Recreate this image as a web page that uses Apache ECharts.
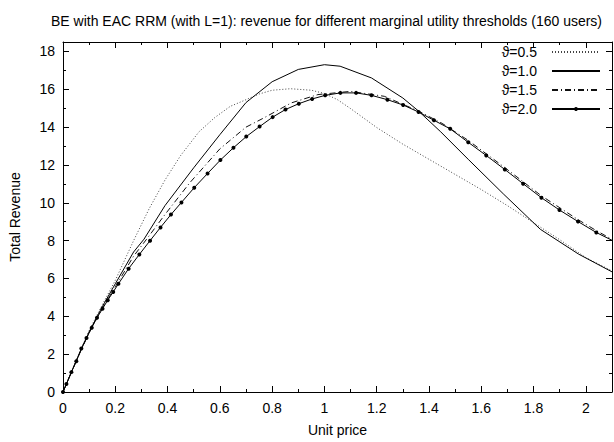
<!DOCTYPE html>
<html>
<head>
<meta charset="utf-8">
<script src="https://cdn.jsdelivr.net/npm/echarts@6/dist/echarts.min.js"></script>
<style>
html,body{margin:0;padding:0;background:#fff;}
#chart{width:614px;height:442px;}
</style>
</head>
<body>
<div id="chart"></div>
<script>
var titleText = 'BE with EAC RRM (with L=1): revenue for different marginal utility thresholds (160 users)';
var seriesNames = ['\u03D1=0.5', '\u03D1=1.0', '\u03D1=1.5', '\u03D1=2.0'];

var priceT05 = [0, 0.05, 0.1, 0.15, 0.2, 0.27, 0.33, 0.39, 0.45, 0.52, 0.58, 0.64, 0.7, 0.75, 0.8, 0.87, 0.95, 1.0, 1.05, 1.1, 1.15, 1.2, 1.3, 1.4, 1.5, 1.6, 1.7, 1.8, 1.9, 2.0, 2.1];
var revT05   = [0, 1.65, 3.25, 4.6, 5.9, 8.0, 9.7, 11.2, 12.5, 13.75, 14.5, 15.1, 15.45, 15.75, 15.95, 16.03, 15.95, 15.78, 15.45, 14.98, 14.48, 13.98, 13.1, 12.3, 11.5, 10.7, 9.85, 8.95, 8.05, 7.1, 6.4];

var priceT10 = [0, 0.05, 0.1, 0.15, 0.2, 0.27, 0.31, 0.39, 0.5, 0.6, 0.7, 0.8, 0.9, 1.0, 1.06, 1.18, 1.3, 1.36, 1.445, 1.55, 1.686, 1.826, 1.972, 2.1];
var revT10   = [0, 1.63, 3.18, 4.5, 5.72, 7.4, 8.08, 9.85, 11.85, 13.6, 15.3, 16.4, 17.05, 17.3, 17.22, 16.6, 15.54, 14.85, 13.75, 12.3, 10.45, 8.6, 7.29, 6.35];

var priceT15 = [0, 0.05, 0.1, 0.15, 0.2, 0.27, 0.32, 0.39, 0.485, 0.6, 0.7, 0.77, 0.873, 0.975, 1.1, 1.229, 1.36, 1.45, 1.55, 1.69, 1.83, 1.97, 2.04, 2.1];
var revT15   = [0, 1.62, 3.14, 4.42, 5.56, 7.18, 8.08, 9.38, 11.06, 12.85, 14.0, 14.5, 15.28, 15.72, 15.89, 15.63, 14.85, 14.2, 13.3, 11.86, 10.37, 9.11, 8.53, 8.07];

var priceT20 = [0, 0.013, 0.032, 0.051, 0.070, 0.090, 0.110, 0.130, 0.151, 0.171, 0.192, 0.212, 0.251, 0.292, 0.333, 0.373, 0.413, 0.453, 0.502, 0.553, 0.602, 0.652, 0.701, 0.752, 0.802, 0.851, 0.902, 0.953, 1.003, 1.061, 1.121, 1.180, 1.241, 1.301, 1.360, 1.419, 1.481, 1.550, 1.619, 1.690, 1.760, 1.830, 1.899, 1.970, 2.040, 2.110];
var revT20   = [0, 0.42, 1.05, 1.63, 2.30, 2.85, 3.40, 3.92, 4.40, 4.85, 5.29, 5.72, 6.52, 7.27, 8.00, 8.70, 9.38, 10.02, 10.80, 11.55, 12.26, 12.91, 13.50, 14.03, 14.53, 14.93, 15.24, 15.49, 15.68, 15.81, 15.81, 15.68, 15.45, 15.17, 14.80, 14.36, 13.91, 13.20, 12.50, 11.76, 11.01, 10.27, 9.62, 9.01, 8.43, 7.95];

var xTickLabels = ['0', '0.2', '0.4', '0.6', '0.8', '1', '1.2', '1.4', '1.6', '1.8', '2'];
var yTickLabels = ['0', '2', '4', '6', '8', '10', '12', '14', '16', '18'];

function pairs(xs, ys) { return xs.map(function (x, i) { return [x, ys[i]]; }); }

var FONT = '"Liberation Sans", Arial, Helvetica, sans-serif';

function xFmt(v) {
  var k = Math.round(v * 5);
  if (Math.abs(v * 5 - k) > 1e-6) return '';
  return xTickLabels[k] !== undefined ? xTickLabels[k] : '';
}
function yFmt(v) {
  var k = Math.round(v / 2);
  if (Math.abs(v / 2 - k) > 1e-6) return '';
  return yTickLabels[k] !== undefined ? yTickLabels[k] : '';
}

var axisCommon = {
  axisLine: { show: true, onZero: false, lineStyle: { color: '#000', width: 1 } },
  axisTick: { show: true, inside: true, length: 6, lineStyle: { color: '#000', width: 1 } },
  minorTick: { show: true, splitNumber: 2, length: 3, lineStyle: { color: '#000', width: 1 } },
  splitLine: { show: false },
  minorSplitLine: { show: false }
};

var hiddenSymbol = { color: 'rgba(0,0,0,0)', borderWidth: 0, borderColor: 'rgba(0,0,0,0)' };

var chart = echarts.init(document.getElementById('chart'), null, { renderer: 'svg' });
chart.setOption({
  animation: false,
  backgroundColor: '#fff',
  title: {
    text: titleText,
    left: 46,
    top: 9,
    textStyle: { fontFamily: FONT, fontSize: 14, fontWeight: 'normal', color: '#000' }
  },
  legend: {
    orient: 'vertical',
    right: 13,
    top: 45,
    align: 'right',
    itemWidth: 48,
    itemHeight: 5,
    itemGap: 5,
    padding: 0,
    textStyle: { fontFamily: FONT, fontSize: 14, lineHeight: 14, color: '#000', padding: [0, 10, 0, 0] },
    data: [
      { name: seriesNames[0], itemStyle: hiddenSymbol },
      { name: seriesNames[1], itemStyle: hiddenSymbol },
      { name: seriesNames[2], itemStyle: hiddenSymbol },
      { name: seriesNames[3] }
    ]
  },
  grid: { left: 61, right: 2, top: 42, bottom: 49, containLabel: false },
  xAxis: [
    Object.assign({
      type: 'value', min: 0, max: 2.1, interval: 0.2, position: 'bottom',
      name: 'Unit price', nameLocation: 'middle', nameGap: 31,
      nameTextStyle: { fontFamily: FONT, fontSize: 14, color: '#000' },
      axisLabel: { show: true, margin: 9, fontFamily: FONT, fontSize: 14, color: '#000', formatter: xFmt, showMaxLabel: false }
    }, axisCommon),
    Object.assign({
      type: 'value', min: 0, max: 2.1, interval: 0.2, position: 'top',
      axisLabel: { show: false }
    }, axisCommon)
  ],
  yAxis: [
    Object.assign({
      type: 'value', min: 0, max: 18.5, interval: 2, position: 'left',
      name: 'Total Revenue', nameLocation: 'middle', nameGap: 41, nameRotate: 90,
      nameTextStyle: { fontFamily: FONT, fontSize: 14, color: '#000' },
      axisLabel: { show: true, margin: 8, fontFamily: FONT, fontSize: 14, color: '#000', formatter: yFmt, showMaxLabel: false }
    }, axisCommon),
    Object.assign({
      type: 'value', min: 0, max: 18.5, interval: 2, position: 'right',
      axisLabel: { show: false }
    }, axisCommon)
  ],
  series: [
    {
      name: seriesNames[0], type: 'line', data: pairs(priceT05, revT05),
      symbol: 'none', clip: true,
      lineStyle: { color: '#444', width: 1, type: [1, 2] },
      itemStyle: { color: '#444' }
    },
    {
      name: seriesNames[1], type: 'line', data: pairs(priceT10, revT10),
      symbol: 'none', clip: true,
      lineStyle: { color: '#000', width: 1, type: 'solid' },
      itemStyle: { color: '#000' }
    },
    {
      name: seriesNames[2], type: 'line', data: pairs(priceT15, revT15),
      symbol: 'none', clip: true,
      lineStyle: { color: '#111', width: 1, type: [6, 3, 1, 3] },
      itemStyle: { color: '#111' }
    },
    {
      name: seriesNames[3], type: 'line', data: pairs(priceT20, revT20),
      symbol: 'circle', symbolSize: 4, showSymbol: true, clip: true,
      lineStyle: { color: '#000', width: 1, type: 'solid' },
      itemStyle: { color: '#000' }
    }
  ]
});
</script>
</body>
</html>
